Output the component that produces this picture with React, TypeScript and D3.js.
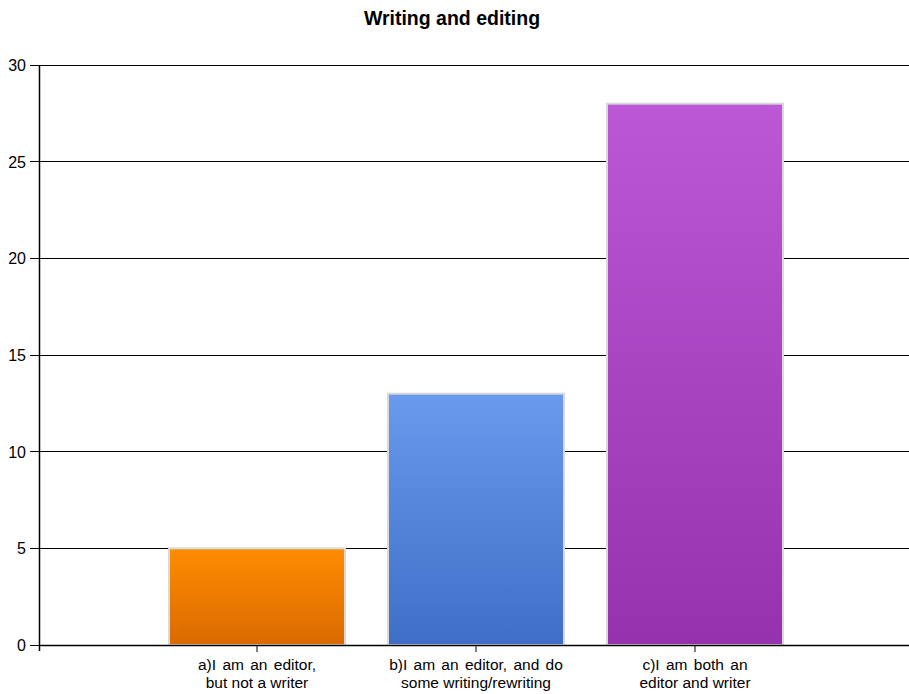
import React from "react";
import * as d3 from "d3";

const categories = ["a)I am an editor,|but not a writer", "b)I am an editor, and do|some writing/rewriting", "c)I am both an|editor and writer"];
const values = [5, 13, 28];
const yTicks = [0, 5, 10, 15, 20, 25, 30];
const colorsTop = ["#FF8C00", "#6A9AEE", "#BC57D5"];
const colorsBottom = ["#DA6A00", "#3E6EC6", "#9632AE"];
const title = "Writing and editing";

export default function App() {
  const W = 909, H = 694;
  const x = d3.scaleLinear().domain([0, 4]).range([38, 914]);
  const y = d3.scaleLinear().domain([0, 30]).range([645, 65]);
  const bw = 176;
  const font = "'Liberation Sans', Arial, sans-serif";
  return (
    <svg width={W} height={H} style={{ position: "absolute", left: 0, top: 0, background: "#fff" }}>
      <defs>
        {values.map((_, i) => (
          <linearGradient key={i} id={`g${i}`} x1="0" y1="0" x2="0" y2="1">
            <stop offset="0%" stopColor={colorsTop[i]} />
            <stop offset="100%" stopColor={colorsBottom[i]} />
          </linearGradient>
        ))}
      </defs>
      <text x={452} y={25} textAnchor="middle" fontFamily={font} fontWeight="bold" fontSize={19.5} fill="#000">{title}</text>
      {yTicks.map((t) => (
        <g key={t}>
          <line x1={30} x2={909} y1={y(t)} y2={y(t)} stroke="#000" strokeWidth={1} shapeRendering="crispEdges" />
          <text x={26} y={y(t) + 6} textAnchor="end" fontFamily={font} fontSize={16} fill="#000">{t}</text>
        </g>
      ))}
      <line x1={39.5} x2={39.5} y1={65} y2={651} stroke="#000" strokeWidth={1.5} />
      {values.map((v, i) => {
        const cx = x(i + 1);
        return (
          <g key={i}>
            <rect x={cx - bw / 2} y={y(v)} width={bw} height={y(0) - y(v)} fill={`url(#g${i})`} stroke="#D9D9D9" strokeWidth={2} />
          </g>
        );
      })}
      <line x1={39} x2={909} y1={645.5} y2={645.5} stroke="#000" strokeWidth={1.5} />
      {categories.map((c, i) => {
        const cx = x(i + 1);
        const lines = c.split("|");
        return (
          <g key={i}>
            <line x1={cx} x2={cx} y1={645} y2={652} stroke="#000" strokeWidth={1} />
            {lines.map((l, j) => (
              <text key={j} x={cx} y={670 + j * 18} textAnchor="middle" fontFamily={font} fontSize={15.5} fill="#000" wordSpacing={j === 0 ? 2 : 0}>{l}</text>
            ))}
          </g>
        );
      })}
    </svg>
  );
}
